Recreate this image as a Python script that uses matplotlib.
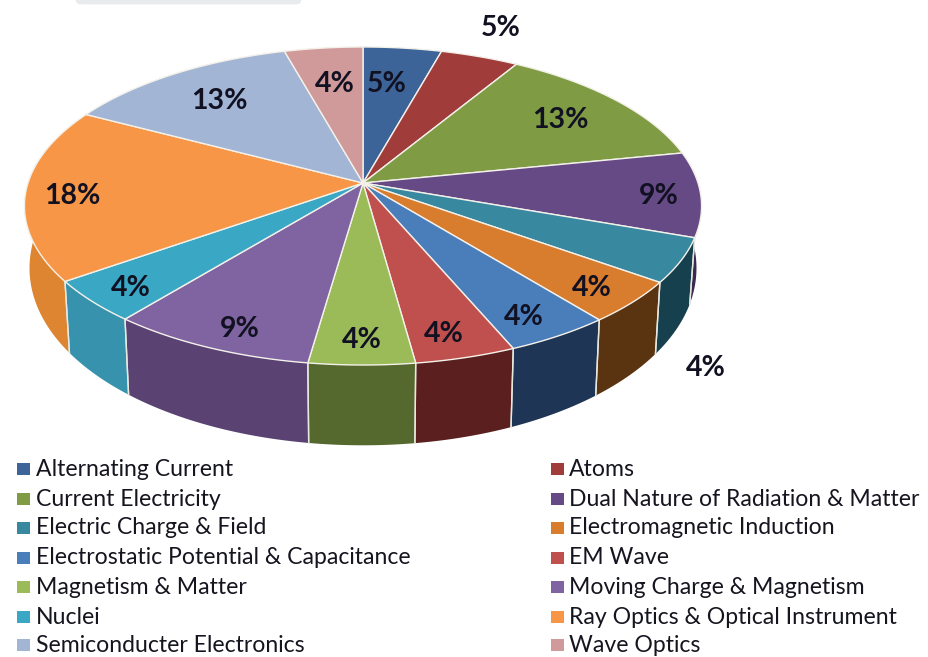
import numpy as np
import matplotlib
matplotlib.use('Agg')
import matplotlib.pyplot as plt
from matplotlib.patches import Polygon, Rectangle, FancyBboxPatch

plt.rcParams['font.family'] = ['Lato', 'DejaVu Sans']

# Data
topics = ['Alternating Current', 'Atoms', 'Current Electricity',
          'Dual Nature of Radiation & Matter', 'Electric Charge & Field',
          'Electromagnetic Induction', 'Electrostatic Potential & Capacitance',
          'EM Wave', 'Magnetism & Matter', 'Moving Charge & Magnetism', 'Nuclei',
          'Ray Optics & Optical Instrument', 'Semiconducter Electronics', 'Wave Optics']
shares = [4.3, 4.3, 13.2, 8.6, 4.5, 4.3, 4.4, 4.2, 4.4, 8.6, 4.3, 17.6, 12.9, 4.3]
pct_labels = ['5%', '5%', '13%', '9%', '4%', '4%', '4%', '4%', '4%', '9%', '4%', '18%', '13%', '4%']

top_colors = ['#3d6498', '#a03d3a', '#7f9c45', '#664a86', '#38889f', '#d87c2e', '#4a7ebb',
              '#c0504d', '#9bbb59', '#8064a2', '#3aa8c4', '#f79646', '#a2b5d4', '#d19a9a']
wall_colors = ['#2a4468', '#6e2a28', '#55682e', '#3a2a50', '#17404e', '#5a3310', '#1e3555',
               '#5a1f1e', '#55682e', '#5a4272', '#3793ad', '#dd8530', '#7f8fa8', '#a07878']

label_pos = [(387, 84), (501, 28), (560, 120), (659, 196), (706, 368), (592, 288), (524, 317),
             (444, 334), (362, 340), (240, 329), (131, 288), (72, 196), (219, 101), (335, 84)]

# Projection of the tilted disc
CX, CY = 363, 183
RX, RY = 335, 155.7
K = 0.1446


def top_xy(theta):
    u, v = np.sin(theta), np.cos(theta)
    s = 1 + K * v
    return CX + RX * u / s, CY - RY * v / s


def bottom_xy(theta):
    x, y = top_xy(theta)
    v = np.cos(theta)
    return CX + 0.985 * (x - CX), CY + 0.985 * (y - CY) + 59 - 24 * v


fig = plt.figure(figsize=(9.29, 6.57), dpi=100)
ax = fig.add_axes([0, 0, 1, 1])
ax.set_xlim(0, 929)
ax.set_ylim(657, 0)
ax.axis('off')

# grey bar cut by the top edge
ax.add_patch(FancyBboxPatch((77, -10), 223, 13, boxstyle='round,pad=0,rounding_size=4',
                            fc='#e9eaeb', ec='#e9eaeb', lw=2))

edges = np.cumsum([0] + shares) / sum(shares) * 2 * np.pi

# side walls, back ones first
order = np.argsort([-abs(((edges[i] + edges[i + 1]) / 2) - np.pi) for i in range(len(shares))])
for i in order:
    th = np.linspace(edges[i], edges[i + 1], 60)
    tx, ty = top_xy(th)
    bx, by = bottom_xy(th)
    pts = np.column_stack([np.r_[tx, bx[::-1]], np.r_[ty, by[::-1]]])
    ax.add_patch(Polygon(pts, fc=wall_colors[i], ec='none', zorder=2))
    ax.plot([tx[0], bx[0]], [ty[0], by[0]], color='#e8e8e0', lw=1, zorder=3)
    ax.plot([tx[-1], bx[-1]], [ty[-1], by[-1]], color='#e8e8e0', lw=1, zorder=3)

# top face
for i in range(len(shares)):
    th = np.linspace(edges[i], edges[i + 1], 60)
    tx, ty = top_xy(th)
    pts = np.column_stack([np.r_[CX, tx], np.r_[CY, ty]])
    ax.add_patch(Polygon(pts, fc=top_colors[i], ec='#f4f1ea', lw=1, zorder=4))

for txt, (x, y) in zip(pct_labels, label_pos):
    ax.text(x, y, txt, ha='center', va='center', fontsize=20.5, fontweight='bold',
            color='#111122', zorder=5)

# legend, filled row by row
row_y = [469, 499, 528, 558, 587, 617, 645]
col_x = [(17, 36), (551, 569)]
for i, name in enumerate(topics):
    mx, tx = col_x[i % 2]
    y = row_y[i // 2]
    ax.add_patch(Rectangle((mx, y - 6), 13, 12, fc=top_colors[i], ec='none'))
    ax.text(tx, y, name, ha='left', va='center', fontsize=16.6, color='#15151f')

fig.savefig('out.png', dpi=100)
